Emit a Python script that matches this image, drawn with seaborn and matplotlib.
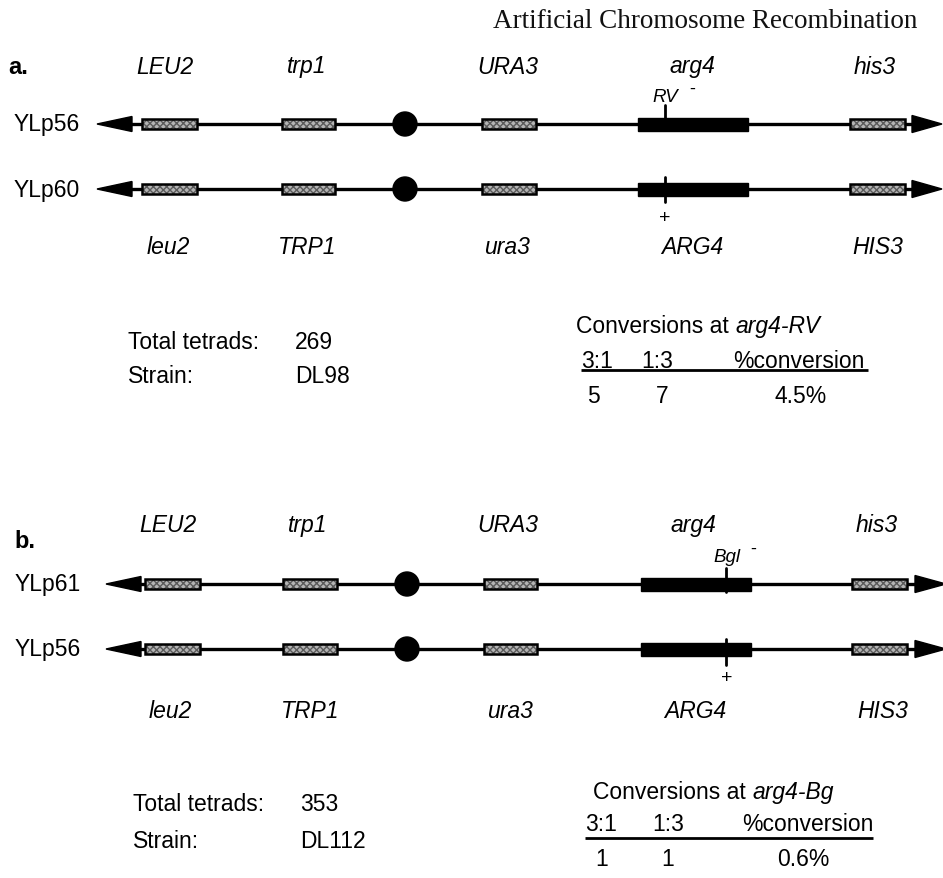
import matplotlib
matplotlib.use("Agg")
import matplotlib.pyplot as plt
from matplotlib.patches import Rectangle, Circle, Polygon
import seaborn as sns

# ---------------- data ----------------
title = "Artificial Chromosome Recombination"
panel_tags = ["a.", "b."]
plasmids_a = ["YLp56", "YLp60"]
plasmids_b = ["YLp61", "YLp56"]
top_genes = ["LEU2", "trp1", "URA3", "arg4", "his3"]
bottom_genes = ["leu2", "TRP1", "ura3", "ARG4", "HIS3"]
sites = ["RV", "Bgl"]
alleles = ["arg4-RV", "arg4-Bg"]
total_tetrads = [269, 353]
strains = ["DL98", "DL112"]
col_headers = ["3:1", "1:3", "%conversion"]
conv_3_1 = [5, 1]
conv_1_3 = [7, 1]
pct_conversion = ["4.5%", "0.6%"]

# ---------------- layout (pixel coords) ----------------
LAYOUT = [
    dict(tag=(8, 67), name_x=14, rows=(125, 190), top_y=67, bot_y=248,
         top_x=[165, 307, 508, 692, 875], bot_x=[168, 307, 507, 692, 878],
         tipL=97, baseL=132, tipR=942, baseR=912,
         boxes=[(142, 197), (282, 335), (482, 536), (850, 905)],
         cen=405, arg=(638, 748), site_x=665, site_lbl=(665, 97), minus=(692, 89),
         plus=(665, 219), tick1=(106, 131), tick2=(178, 203),
         stats_x=(128, 295), stats_y=(343, 377),
         conv=(576, 327), hdr_y=362, hdr_x=[581, 641, 733], rule=(581, 868, 371),
         val_y=397, val_x=[593, 662, 801]),
    dict(tag=(14, 542), name_x=15, rows=(585, 650), top_y=526, bot_y=712,
         top_x=[168, 308, 508, 693, 877], bot_x=[170, 310, 510, 695, 883],
         tipL=106, baseL=141, tipR=946, baseR=915,
         boxes=[(145, 200), (283, 337), (484, 537), (852, 907)],
         cen=407, arg=(641, 751), site_x=726, site_lbl=(727, 558), minus=(753, 549),
         plus=(727, 679), tick1=(569, 593), tick2=(640, 666),
         stats_x=(133, 300), stats_y=(805, 842),
         conv=(593, 793), hdr_y=825, hdr_x=[585, 652, 742], rule=(585, 873, 839),
         val_y=860, val_x=[602, 668, 803]),
]

sns.set_theme(style="white")
plt.rcParams["font.family"] = ["Liberation Sans", "DejaVu Sans"]
plt.rcParams["text.color"] = "black"

W, H = 943, 879
fig = plt.figure(figsize=(W / 100, H / 100), dpi=100)
ax = fig.add_axes([0, 0, 1, 1])
ax.set_xlim(0, W)
ax.set_ylim(H, 0)
ax.axis("off")

FS = 16.5

ax.text(917, 21, title, ha="right", va="center", fontsize=19.5,
        family=["Liberation Serif", "DejaVu Serif"], color="#111111")


def chromosome(L, y):
    ax.plot([L["baseL"] - 2, L["baseR"] + 2], [y, y], color="black", lw=2.4,
            solid_capstyle="butt", zorder=1)
    ax.add_patch(Polygon([(L["tipL"], y), (L["baseL"], y - 7.5), (L["baseL"], y + 7.5)],
                         closed=True, color="black", zorder=2))
    ax.add_patch(Polygon([(L["tipR"], y), (L["baseR"], y - 8.5), (L["baseR"], y + 8.5)],
                         closed=True, color="black", zorder=2))
    for x0, x1 in L["boxes"]:
        ax.add_patch(Rectangle((x0, y - 5), x1 - x0, 10, facecolor="#b4b4b4",
                               edgecolor="#5a5a5a", lw=0, hatch="xxxxx", zorder=3))
        ax.add_patch(Rectangle((x0, y - 5), x1 - x0, 10, fill=False,
                               edgecolor="black", lw=1.8, zorder=4))
    a0, a1 = L["arg"]
    ax.add_patch(Rectangle((a0, y - 6.5), a1 - a0, 13, color="black", zorder=3))
    ax.add_patch(Circle((L["cen"], y), 12, color="black", zorder=3))


for i, L in enumerate(LAYOUT):
    plasmids = plasmids_a if i == 0 else plasmids_b
    ax.text(L["tag"][0], L["tag"][1], panel_tags[i], ha="left", va="center",
            fontsize=17, weight="bold")
    for x, g in zip(L["top_x"], top_genes):
        ax.text(x, L["top_y"], g, ha="center", va="center", fontsize=FS, style="italic")
    for x, g in zip(L["bot_x"], bottom_genes):
        ax.text(x, L["bot_y"], g, ha="center", va="center", fontsize=FS, style="italic")
    for name, y in zip(plasmids, L["rows"]):
        ax.text(L["name_x"], y, name, ha="left", va="center", fontsize=FS)
        chromosome(L, y)
    # site ticks
    ax.plot([L["site_x"]] * 2, L["tick1"], color="black", lw=2, zorder=5)
    ax.plot([L["site_x"]] * 2, L["tick2"], color="black", lw=2, zorder=5)
    ax.text(*L["site_lbl"], sites[i], ha="center", va="center", fontsize=13.5, style="italic")
    ax.text(*L["minus"], "-", ha="center", va="center", fontsize=13)
    ax.text(*L["plus"], "+", ha="center", va="center", fontsize=14)
    # stats
    sx0, sx1 = L["stats_x"]
    sy0, sy1 = L["stats_y"]
    ax.text(sx0, sy0, "Total tetrads:", ha="left", va="center", fontsize=FS)
    ax.text(sx1, sy0, str(total_tetrads[i]), ha="left", va="center", fontsize=FS)
    ax.text(sx0, sy1, "Strain:", ha="left", va="center", fontsize=FS)
    ax.text(sx1, sy1, strains[i], ha="left", va="center", fontsize=FS)
    t = ax.text(L["conv"][0], L["conv"][1], "Conversions at ", ha="left", va="center",
                fontsize=FS)
    ax.annotate(alleles[i], xy=(1, 0), xycoords=t, ha="left", va="bottom",
                fontsize=FS, style="italic")
    for x, h in zip(L["hdr_x"], col_headers):
        ax.text(x, L["hdr_y"], h, ha="left", va="center", fontsize=FS)
    r0, r1, ry = L["rule"]
    ax.plot([r0, r1], [ry, ry], color="black", lw=2, solid_capstyle="butt")
    vals = [str(conv_3_1[i]), str(conv_1_3[i]), pct_conversion[i]]
    for x, v in zip(L["val_x"], vals):
        ax.text(x, L["val_y"], v, ha="center", va="center", fontsize=FS)

fig.savefig("out.png", dpi=100, facecolor="white")
